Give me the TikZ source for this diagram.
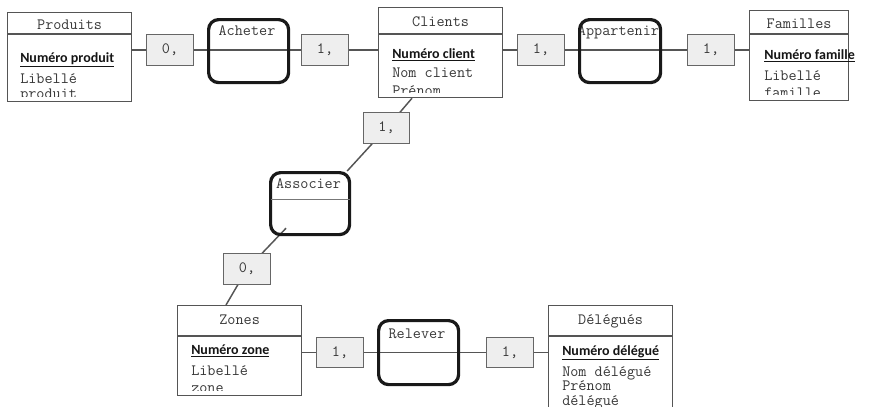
\documentclass[tikz,border=0pt]{standalone}
\usepackage{fontspec}
\newfontfamily\keyfont{Carlito}
\usetikzlibrary{calc,backgrounds}
\definecolor{entc}{HTML}{555555}
\definecolor{txtc}{HTML}{383838}
\definecolor{keyc}{HTML}{151515}
\definecolor{cardc}{HTML}{666666}
\definecolor{cardfill}{HTML}{EEEEEE}
\definecolor{connc}{HTML}{555555}
\definecolor{sepc}{HTML}{777777}
\tikzset{
  entbox/.style={draw=entc, line width=0.9pt, fill=white, anchor=north west, inner sep=0pt},
  asso/.style={draw=black!90, line width=2.4pt, rounded corners=7.5pt, anchor=north west, inner sep=0pt},
  card/.style={draw=cardc, fill=cardfill, line width=0.8pt, anchor=north west, inner sep=0pt,
    minimum width=35.25pt, minimum height=23.25pt, font=\ttfamily\fontsize{11.8}{14}\selectfont, text=txtc},
  conn/.style={draw=connc, line width=1.1pt},
  sepline/.style={draw=sepc, line width=0.8pt},
  ttl/.style={font=\ttfamily\fontsize{11.8}{14}\selectfont, text=txtc, inner sep=0pt, anchor=base},
  attr/.style={font=\ttfamily\fontsize{11.8}{14}\selectfont, text=txtc, inner sep=0pt, anchor=base west},
  keyattr/.style={font=\keyfont\bfseries\fontsize{10.5}{13}\selectfont, text=keyc, inner sep=0pt, anchor=base west},
}
\begin{document}
\begin{tikzpicture}[x=0.75pt,y=-0.75pt]
\useasboundingbox (0,0) rectangle (875,407);
\clip (0,0) rectangle (875,407);

% ---------- entities ----------
\node[entbox, minimum width=124*0.75pt, minimum height=89*0.75pt] (prod) at (7,12) {};
\node[entbox, minimum width=124*0.75pt, minimum height=90*0.75pt] (cli) at (378,7) {};
\node[entbox, minimum width=99*0.75pt, minimum height=90*0.75pt] (fam) at (749,10) {};
\node[entbox, minimum width=124*0.75pt, minimum height=90*0.75pt] (zon) at (177,305) {};
\node[entbox, minimum width=124*0.75pt, minimum height=120*0.75pt] (del) at (548,305) {};

% headers
\draw[draw=entc, line width=0.9pt] ($(prod.north west)+(0,22)$) -- ($(prod.north east)+(0,22)$);
\draw[draw=entc, line width=0.9pt] ($(cli.north west)+(0,27)$) -- ($(cli.north east)+(0,27)$);
\draw[draw=entc, line width=0.9pt] ($(fam.north west)+(0,24)$) -- ($(fam.north east)+(0,24)$);
\draw[draw=entc, line width=0.9pt] ($(zon.north west)+(0,31)$) -- ($(zon.north east)+(0,31)$);
\draw[draw=entc, line width=0.9pt] ($(del.north west)+(0,31)$) -- ($(del.north east)+(0,31)$);

\node[ttl] (prodT) at ($(prod.north)+(0,17)$) {Produits};
\node[ttl] (cliT) at ($(cli.north)+(0,19.5)$) {Clients};
\node[ttl] (famT) at ($(fam.north)+(0,18)$) {Familles};
\node[ttl] (zonT) at ($(zon.north)+(0,19)$) {Zones};
\node[ttl] (delT) at ($(del.north)+(0,19)$) {Délégués};

% identifiers
\node[keyattr] (prodK) at ($(prod.north west)+(13,50)$) {\underline{Numéro produit}};
\node[keyattr] (cliK) at ($(cli.north west)+(14,51)$) {\underline{Numéro client}};
\node[keyattr] (famK) at ($(fam.north west)+(15,49)$) {\underline{Numéro famille}};
\node[keyattr] (zonK) at ($(zon.north west)+(14,49)$) {\underline{Numéro zone}};
\node[keyattr] (delK) at ($(del.north west)+(14,50)$) {\underline{Numéro délégué}};

% attributes (clipped to each box)
\begin{scope}
\clip (prod.north west) rectangle ($(prod.south east)+(0,-6)$);
\node[attr] (prodA1) at ($(prod.north west)+(13,71)$) {Libellé};
\node[attr] (prodA2) at ($(prod.north west)+(13,86)$) {produit};
\end{scope}
\begin{scope}
\clip (cli.north west) rectangle ($(cli.south east)+(0,-6)$);
\node[attr] (cliA1) at ($(cli.north west)+(14,70)$) {Nom client};
\node[attr] (cliA2) at ($(cli.north west)+(14,88.5)$) {Prénom};
\end{scope}
\begin{scope}
\clip (fam.north west) rectangle ($(fam.south east)+(0,-7)$);
\node[attr] (famA1) at ($(fam.north west)+(15,70)$) {Libellé};
\node[attr] (famA2) at ($(fam.north west)+(15,87.5)$) {famille};
\end{scope}
\begin{scope}
\clip (zon.north west) rectangle ($(zon.south east)+(0,-6)$);
\node[attr] (zonA1) at ($(zon.north west)+(14,70)$) {Libellé};
\node[attr] (zonA2) at ($(zon.north west)+(14,87.5)$) {zone};
\end{scope}
\begin{scope}
\clip (del.north west) rectangle ($(del.south east)+(0,-6)$);
\node[attr] (delA1) at ($(del.north west)+(14,71)$) {Nom délégué};
\node[attr] (delA2) at ($(del.north west)+(14,85)$) {Prénom};
\node[attr] (delA3) at ($(del.north west)+(14,100)$) {délégué};
\end{scope}

% ---------- cardinalities ----------
\node[card] (c1) at (146,34) {0,\hspace{4pt}};
\node[card] (c2) at (301,34) {1,\hspace{4pt}};
\node[card] (c3) at (517,34) {1,\hspace{4pt}};
\node[card] (c4) at (687,34) {1,\hspace{4pt}};
\node[card, minimum width=34.5pt] (c5) at (363,112) {1,\hspace{4pt}};
\node[card] (c6) at (223,253) {0,\hspace{4pt}};
\node[card, minimum height=22.5pt] (c7) at (316,337) {1,\hspace{4pt}};
\node[card, minimum height=22.5pt] (c8) at (486,337) {1,\hspace{4pt}};

% ---------- associations ----------
\node[ttl] (achT) at (247,36) {Acheter};
\node[ttl] (appT) at (618.5,36) {Appartenir};
\node[ttl] (assT) at (308.5,188) {Associer};
\node[ttl] (relT) at (417,338) {Relever};

\node[asso, minimum width=80*0.75pt, minimum height=63*0.75pt] (ach) at (207,18) {};
\node[asso, minimum width=81*0.75pt, minimum height=63*0.75pt] (app) at (578,18) {};
\node[asso, minimum width=79*0.75pt, minimum height=62*0.75pt] (ass) at (269,171) {};
\node[asso, minimum width=80*0.75pt, minimum height=64*0.75pt] (rel) at (377,319) {};
\draw[sepline] ($(ass.west)+(1.5,-4)$) -- ($(ass.east)+(-1.5,-4)$);

\coordinate (cliP) at ($(cli.south west)+(34,0)$);
\coordinate (zonP) at ($(zon.north west)+(49,0)$);
\coordinate (assIn) at ($(ass.south west)+(17,-8)$);
\coordinate (assTop) at ($(ass.north east)+(-4,0)$);

% ---------- connectors ----------
\begin{pgfonlayer}{background}
\draw[conn] (prod.east |- c1) -- (c1) -- (c2) -- (cli.west |- c2);
\draw[conn] (cli.east |- c3) -- (c3) -- (c4) -- (fam.west |- c4);
\draw[conn] (cliP) -- (c5.center) -- (assTop);
\draw[conn] (assIn) -- (c6.center) -- (zonP);
\draw[conn] (zon.east |- c7) -- (c7) -- (c8) -- (del.west |- c8);
\end{pgfonlayer}
\end{tikzpicture}
\end{document}
